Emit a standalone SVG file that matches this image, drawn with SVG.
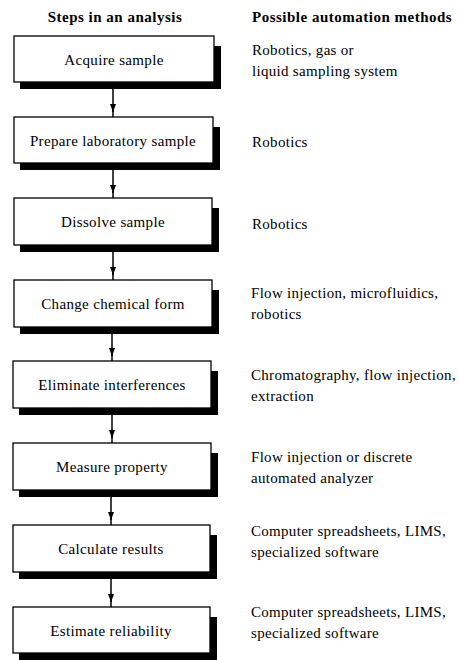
<svg xmlns="http://www.w3.org/2000/svg" width="459" height="660" viewBox="0 0 459 660">
<defs>
<style>
.bg{fill:#fff}
.box{fill:#fff;stroke:#000;stroke-width:1.3}
.sh{fill:#000}
.lbl{font-family:"Liberation Serif","Times New Roman",serif;font-size:15px;letter-spacing:0.35px;fill:#000;text-anchor:middle}
.hdr{font-family:"Liberation Serif","Times New Roman",serif;font-size:15px;letter-spacing:0.5px;font-weight:bold;fill:#000}
.txt{font-family:"Liberation Serif","Times New Roman",serif;font-size:15px;letter-spacing:0.3px;fill:#000}
.con{fill:none;stroke:#000;stroke-width:1.5}
</style>
<marker id="ah" viewBox="0 0 6 8" refX="3" refY="8" markerWidth="6" markerHeight="8" markerUnits="userSpaceOnUse" orient="0">
<path d="M0 0 L6 0 L3 8 Z" fill="#000"/>
</marker>
</defs>
<rect class="bg" x="0" y="0" width="459" height="660"/>
<text class="hdr" x="115" y="22" text-anchor="middle">Steps in an analysis</text>
<text class="hdr" x="252" y="22">Possible automation methods</text>

<g id="connectors">
<path class="con" d="M113 89 L113 112" marker-end="url(#ah)"/><path class="con" d="M113 110 L113 117"/>
<path class="con" d="M113 170 L113 193" marker-end="url(#ah)"/><path class="con" d="M113 191 L113 198"/>
<path class="con" d="M113 252 L113 275" marker-end="url(#ah)"/><path class="con" d="M113 273 L113 280"/>
<path class="con" d="M112 334 L112 356" marker-end="url(#ah)"/><path class="con" d="M112 354 L112 361"/>
<path class="con" d="M112 415 L112 438" marker-end="url(#ah)"/><path class="con" d="M112 436 L112 443"/>
<path class="con" d="M111 497 L111 520" marker-end="url(#ah)"/><path class="con" d="M111 518 L111 525"/>
<path class="con" d="M111 579 L111 602" marker-end="url(#ah)"/><path class="con" d="M111 600 L111 607"/>
</g>

<g id="n1">
<path class="sh" d="M214 46 H221 V89 H20 V82 H214 Z"/>
<rect class="box" x="14" y="36" width="200" height="46"/>
<text class="lbl" x="114" y="65">Acquire sample</text>
</g>
<g id="n2">
<path class="sh" d="M213 127 H220 V170 H20 V163 H213 Z"/>
<rect class="box" x="14" y="117" width="199" height="46"/>
<text class="lbl" x="113" y="146">Prepare laboratory sample</text>
</g>
<g id="n3">
<path class="sh" d="M212 208 H219 V252 H20 V245 H212 Z"/>
<rect class="box" x="14" y="198" width="198" height="47"/>
<text class="lbl" x="113" y="227">Dissolve sample</text>
</g>
<g id="n4">
<path class="sh" d="M212 290 H219 V334 H20 V327 H212 Z"/>
<rect class="box" x="14" y="280" width="198" height="47"/>
<text class="lbl" x="113" y="309">Change chemical form</text>
</g>
<g id="n5">
<path class="sh" d="M211 371 H218 V415 H19 V408 H211 Z"/>
<rect class="box" x="13" y="361" width="198" height="47"/>
<text class="lbl" x="112" y="390">Eliminate interferences</text>
</g>
<g id="n6">
<path class="sh" d="M211 453 H218 V497 H19 V490 H211 Z"/>
<rect class="box" x="13" y="443" width="198" height="47"/>
<text class="lbl" x="112" y="472">Measure property</text>
</g>
<g id="n7">
<path class="sh" d="M210 535 H217 V579 H19 V572 H210 Z"/>
<rect class="box" x="13" y="525" width="197" height="47"/>
<text class="lbl" x="111" y="554">Calculate results</text>
</g>
<g id="n8">
<path class="sh" d="M210 617 H217 V660 H19 V653 H210 Z"/>
<rect class="box" x="13" y="607" width="197" height="46"/>
<text class="lbl" x="111" y="636">Estimate reliability</text>
</g>

<g id="methods">
<text class="txt" x="252" y="55">Robotics, gas or</text>
<text class="txt" x="252" y="76">liquid sampling system</text>
<text class="txt" x="252" y="147">Robotics</text>
<text class="txt" x="252" y="229">Robotics</text>
<text class="txt" x="251" y="298">Flow injection, microfluidics,</text>
<text class="txt" x="251" y="319">robotics</text>
<text class="txt" x="251" y="380">Chromatography, flow injection,</text>
<text class="txt" x="251" y="401">extraction</text>
<text class="txt" x="251" y="462">Flow injection or discrete</text>
<text class="txt" x="251" y="483">automated analyzer</text>
<text class="txt" x="251" y="536">Computer spreadsheets, LIMS,</text>
<text class="txt" x="251" y="557">specialized software</text>
<text class="txt" x="251" y="617">Computer spreadsheets, LIMS,</text>
<text class="txt" x="251" y="638">specialized software</text>
</g>
</svg>
